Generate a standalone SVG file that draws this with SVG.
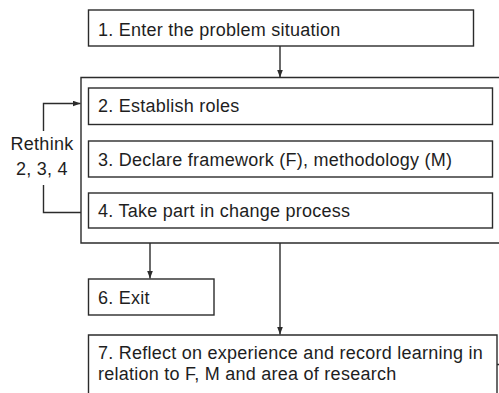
<svg xmlns="http://www.w3.org/2000/svg" width="499" height="393" viewBox="0 0 499 393">
  <defs>
    <marker id="arrow" viewBox="0 0 8 6" refX="8" refY="3" markerWidth="8" markerHeight="6" markerUnits="userSpaceOnUse" orient="auto">
      <path d="M0,0 L8,3 L0,6 Z" fill="#2b2b2b"/>
    </marker>
  </defs>
  <style>
    .box { fill: #ffffff; stroke: #2b2b2b; stroke-width: 1.4; }
    .line { fill: none; stroke: #2b2b2b; stroke-width: 1.4; }
    .lbl { font-family: "Liberation Sans", Arial, Helvetica, sans-serif; font-size: 18px; letter-spacing: 0.25px; fill: #1e1e1e; }
  </style>
  <rect width="499" height="393" fill="#ffffff"/>

  <!-- enclosing frame for steps 2 to 4 (open to the right) -->
  <g id="group-2-4">
    <path class="line" d="M500,77.5 H81 V243 H500"/>
  </g>

  <g id="step1">
    <rect class="box" x="88.5" y="10" width="385" height="36"/>
    <text class="lbl" x="98" y="35.5">1. Enter the problem situation</text>
  </g>

  <g id="step2">
    <rect class="box" x="88.5" y="88" width="404" height="36.5"/>
    <text class="lbl" x="98" y="111.5">2. Establish roles</text>
  </g>

  <g id="step3">
    <rect class="box" x="88.5" y="141" width="404" height="36"/>
    <text class="lbl" x="98" y="165.5">3. Declare framework (F), methodology (M)</text>
  </g>

  <g id="step4">
    <rect class="box" x="88.5" y="193" width="404" height="35"/>
    <text class="lbl" x="98" y="216.5">4. Take part in change process</text>
  </g>

  <g id="step6">
    <rect class="box" x="88.5" y="279" width="125.5" height="36"/>
    <text class="lbl" x="98" y="304">6. Exit</text>
  </g>

  <g id="step7">
    <path class="line" d="M88.5,400 V335 H497 V400"/>
    <text class="lbl" x="98" y="358.5">7. Reflect on experience and record learning in</text>
    <text class="lbl" x="98" y="380">relation to F, M and area of research</text>
  </g>

  <g id="rethink-label">
    <text class="lbl" x="42" y="150" text-anchor="middle" letter-spacing="0">Rethink</text>
    <text class="lbl" x="42" y="175" text-anchor="middle" letter-spacing="0">2, 3, 4</text>
  </g>

  <g id="connectors">
    <path class="line" d="M280,46 V77.5" marker-end="url(#arrow)"/>
    <path class="line" d="M150,243 V278.5" marker-end="url(#arrow)"/>
    <path class="line" d="M280,243 V334.5" marker-end="url(#arrow)"/>
    <path class="line" d="M43.5,131 V103.5 H80.5" marker-end="url(#arrow)"/>
    <path class="line" d="M43.5,185 V212.5 H81"/>
    <path class="line" d="M497,364.5 H499"/>
  </g>
</svg>
